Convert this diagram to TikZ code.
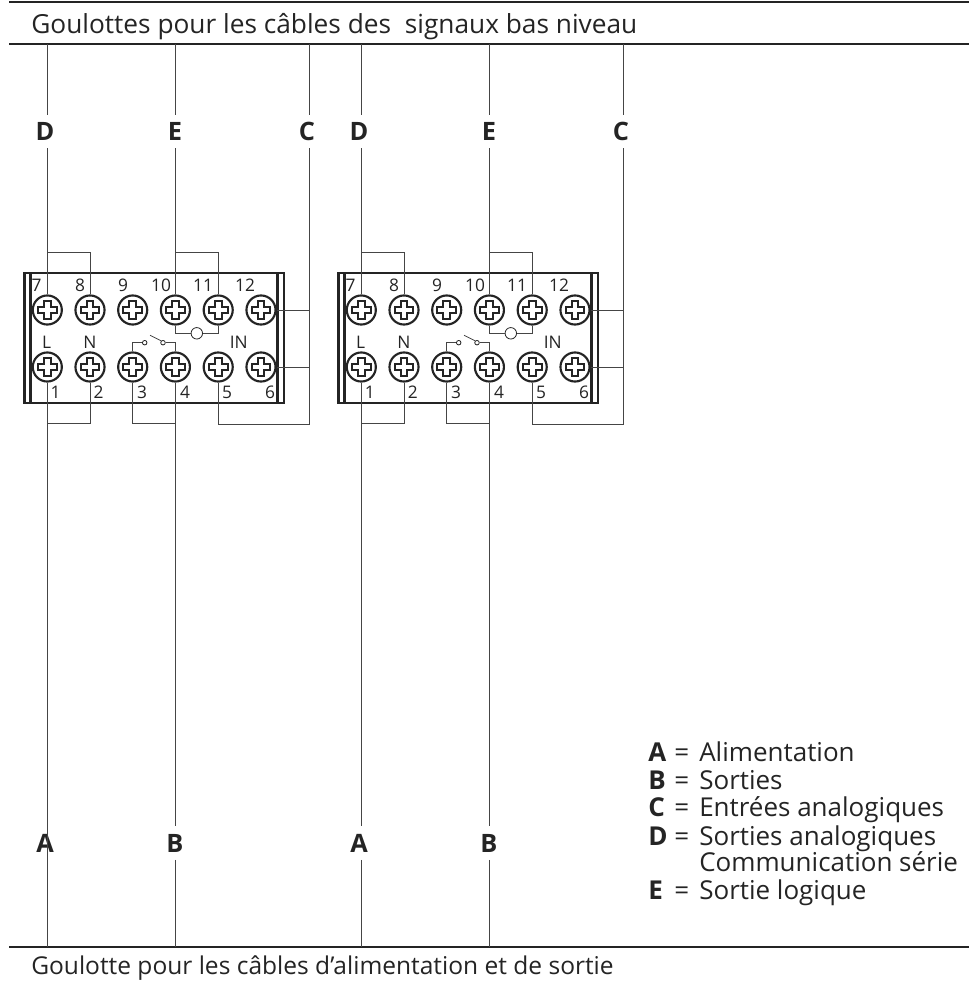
\documentclass[tikz,border=0pt]{standalone}
\usepackage{fontspec}
\setmainfont{Open Sans}
\definecolor{ink}{gray}{0.14}
\tikzset{
  wire/.style={draw=ink!85!white,line width=0.75pt},
  rail/.style={draw=ink,line width=2pt},
  frame/.style={draw=ink,line width=2pt},
  screw/.style={circle,draw=ink,line width=1.6pt,minimum size=21.8pt,inner sep=0pt,fill=white},
  term/.style={text=ink,inner sep=0pt,font=\fontsize{13}{13}\selectfont},
  caption/.style={text=ink,inner sep=0pt,anchor=base west},
  tag/.style={text=ink,inner sep=0pt,font=\fontsize{19}{19}\selectfont\bfseries,minimum height=25pt},
  legend/.style={text=ink,inner sep=0pt,anchor=base west,font=\fontsize{19.5}{19.5}\selectfont},
  contact/.style={circle,draw=ink,line width=0.6pt,minimum size=3.4pt,inner sep=0pt,fill=white},
  lamp/.style={circle,draw=ink,line width=0.6pt,minimum size=8.6pt,inner sep=0pt,fill=white},
}
\newcommand{\crossmark}[1]{%
  \draw[draw=ink,line width=1.5pt,fill=white,shift={(#1)}]
    (-2.5pt,-7pt) -- (2.5pt,-7pt) -- (2.5pt,-2.5pt) -- (7pt,-2.5pt) -- (7pt,2.5pt) -- (2.5pt,2.5pt)
    -- (2.5pt,7pt) -- (-2.5pt,7pt) -- (-2.5pt,2.5pt) -- (-7pt,2.5pt) -- (-7pt,-2.5pt) -- (-2.5pt,-2.5pt) -- cycle;}
\begin{document}
\begin{tikzpicture}[x=0.75pt,y=-0.75pt]
\useasboundingbox (0,0) rectangle (969,988);
% cable ducts
\coordinate (topA) at (9,2);   \coordinate (topB) at (969,2);
\coordinate (upA) at (9,44);   \coordinate (upB) at (969,44);
\coordinate (lowA) at (9,947); \coordinate (lowB) at (969,947);
\draw[rail] (topA) -- (topB);
\draw[rail] (upA) -- (upB);
\draw[rail] (lowA) -- (lowB);
\node[caption,font=\fontsize{19.7}{19.7}\selectfont] (capTop) at (31,34) {Goulottes pour les câbles des\ \ signaux bas niveau};
\node[caption,font=\fontsize{18.4}{18.4}\selectfont] (capLow) at (31,974) {Goulotte pour les câbles d'alimentation et de sortie};
% legend
\foreach \n/\yy/\l/\t in {A/761.7/A/Alimentation,B/789/B/Sorties,C/816.7/C/Entrées analogiques,D/845/D/Sorties analogiques,E/899/E/Sortie logique}{
  \node[legend,font=\fontsize{19.5}{19.5}\selectfont\bfseries] (leg\n) at (648,\yy) {\l};
  \node[legend] (eq\n) at (674,\yy) {=};
  \node[legend] (txt\n) at (699,\yy) {\t};
}
\node[legend] (txtD2) at (699,871.7) {Communication série};
% two terminal blocks
\foreach \p/\dx in {a/0,b/314}{
\begin{scope}[shift={(\dx,0)}]
  \node[screw] (\p s7)  at (47.3,310) {};
  \node[screw] (\p s8)  at (90,310) {};
  \node[screw] (\p s9)  at (132.7,310) {};
  \node[screw] (\p s10) at (175.4,310) {};
  \node[screw] (\p s11) at (218.2,310) {};
  \node[screw] (\p s12) at (261,310) {};
  \node[screw] (\p s1)  at (47.3,367) {};
  \node[screw] (\p s2)  at (90,367) {};
  \node[screw] (\p s3)  at (132.7,367) {};
  \node[screw] (\p s4)  at (175.4,367) {};
  \node[screw] (\p s5)  at (218.2,367) {};
  \node[screw] (\p s6)  at (261,367) {};
  \foreach \s in {1,...,12}{\crossmark{\p s\s}}
  % frame
  \draw[frame] (24.7,273) rectangle (284,403);
  \draw[frame] (30.4,273) -- (30.4,403);
  \draw[frame] (277.8,273) -- (277.8,403);
  % terminal labels
  \foreach \t/\xx in {7/36.7,8/80,9/123,10/161,11/203,12/245}{\node[term] (\p n\t) at (\xx,285) {\t};}
  \foreach \t/\xx in {1/55.7,2/98.7,3/142,4/185,5/227,6/270}{\node[term] (\p n\t) at (\xx,392) {\t};}
  \node[term] (\p L) at (46.7,342.7) {L};
  \node[term] (\p N) at (90,342.7) {N};
  \node[term] (\p IN) at (238.7,342.7) {IN};
  % tags
  \node[tag] (\p D) at (45,131.5) {D};
  \node[tag] (\p E) at (175,131.5) {E};
  \node[tag] (\p C) at (307,131.5) {C};
  \node[tag] (\p A) at (45,843) {A};
  \node[tag] (\p B) at (175,843) {B};
  % duct tap points
  \coordinate (\p tD) at (47.3,44);
  \coordinate (\p tE) at (175.4,44);
  \coordinate (\p tC) at (309,44);
  \coordinate (\p bA) at (47.3,947);
  \coordinate (\p bB) at (175.4,947);
  % upper wires
  \draw[wire] (\p tD) -- (\p tD |- \p D.north);
  \draw[wire] (\p tD |- \p D.south) -- (\p s7.north);
  \draw[wire] (\p tD |- 0,252) -| (\p s8.north);
  \draw[wire] (\p tE) -- (\p tE |- \p E.north);
  \draw[wire] (\p tE |- \p E.south) -- (\p s10.north);
  \draw[wire] (\p tE |- 0,252) -| (\p s11.north);
  \draw[wire] (\p tC) -- (\p tC |- \p C.north);
  \draw[wire] (\p tC |- \p C.south) -- (\p tC |- 0,424) -| (\p s5.south);
  \draw[wire] (\p s12.east) -- (\p s12.east -| \p tC);
  \draw[wire] (\p s6.east) -- (\p s6.east -| \p tC);
  % lower wires
  \draw[wire] (\p s2.south) |- (\p s1.south |- 0,423);
  \draw[wire] (\p s3.south) |- (\p s4.south |- 0,423);
  \draw[wire] (\p s4.south) -- (\p s4.south |- \p B.north);
  \draw[wire] (\p bB |- \p B.south) -- (\p bB);
  % lamp between 10 and 11
  \node[lamp] (\p lamp) at (196.8,333.3) {};
  \draw[wire,line width=0.6pt] (\p s10.south) |- (\p lamp.west);
  \draw[wire,line width=0.6pt] (\p s11.south) |- (\p lamp.east);
  % switch between 3 and 4
  \node[contact] (\p c1) at (144.7,342.7) {};
  \node[contact] (\p c2) at (163,342.7) {};
  \coordinate (\p blade) at (150,335.3);
  \draw[wire,line width=0.6pt] (\p s3.north) |- (\p c1.west);
  \draw[wire,line width=0.6pt] (\p s4.north) |- (\p c2.east);
  \draw[wire,line width=0.6pt] (\p blade) -- (\p c2.north west);
\end{scope}
}
% power wires: the first passes through its tag
\draw[wire] (as1.south) -- (abA);
\draw[wire] (bs1.south) -- (bs1.south |- bA.north);
\draw[wire] (bbA |- bA.south) -- (bbA);
\end{tikzpicture}
\end{document}
